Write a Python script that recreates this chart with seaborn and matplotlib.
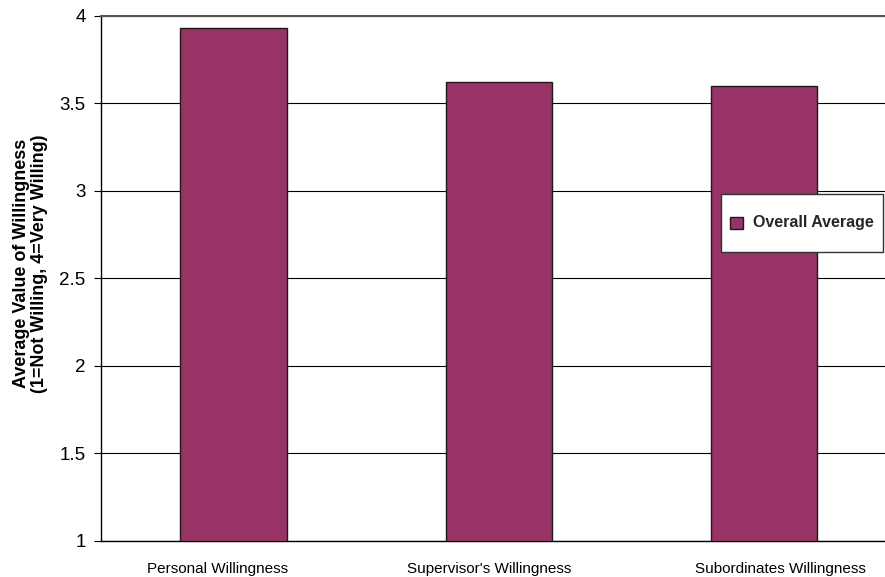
import matplotlib
matplotlib.use("Agg")
import matplotlib.pyplot as plt
import matplotlib.transforms as mtransforms
import matplotlib.patches as mpatches
from matplotlib.container import BarContainer
from matplotlib.legend_handler import HandlerPatch
import seaborn as sns
import pandas as pd
from matplotlib.ticker import FixedLocator

categories = ["Personal Willingness", "Supervisor's Willingness", "Subordinates Willingness"]
overall_average = [3.93, 3.62, 3.60]
series_name = "Overall Average"
y_label = "Average Value of Willingness\n(1=Not Willing, 4=Very Willing)"
y_ticks = [1, 1.5, 2, 2.5, 3, 3.5, 4]
y_tick_labels = ["1", "1.5", "2", "2.5", "3", "3.5", "4"]

df = pd.DataFrame({"category": categories, "value": overall_average})

sns.set_theme(style="white")
plt.rcParams["font.family"] = ["Liberation Sans", "DejaVu Sans"]

fig = plt.figure(figsize=(8.85, 5.77), dpi=100)
ax = fig.add_axes([0.1139, 0.0624, 0.8994, 0.9099])

sns.barplot(data=df, x="category", y="value", color="#993366", saturation=1,
            width=0.4, edgecolor="#1a1a1a", linewidth=1.0, label=series_name, ax=ax,
            zorder=3)

ax.set_xlim(-0.5, 2.5)
ax.set_ylim(1, 4)
ax.set_yticks(y_ticks)
ax.set_yticklabels(y_tick_labels)
ax.grid(axis="y", color="black", linewidth=0.8, zorder=0)
ax.set_axisbelow(True)

# category ticks sit between the groups; labels under each bar
ax.xaxis.set_minor_locator(FixedLocator([-0.5, 0.5, 1.5, 2.5]))
ax.tick_params(axis="x", which="major", length=0, pad=15, labelsize=11, colors="black")
ax.tick_params(axis="x", which="minor", length=5, width=0.8, color="black", direction="out")
ax.tick_params(axis="y", which="major", length=5, width=0.8, color="black", direction="out",
               labelsize=13.5, pad=6, labelcolor="black", left=True)

# small horizontal nudges of the category labels
label_shift_px = [-16, -10, 16]
for lbl, dx in zip(ax.get_xticklabels(), label_shift_px):
    lbl.set_transform(lbl.get_transform() +
                      mtransforms.ScaledTranslation(dx / 100, 0, fig.dpi_scale_trans))

for side in ["left", "bottom"]:
    ax.spines[side].set_color("black")
    ax.spines[side].set_linewidth(1.0)
ax.spines["top"].set_color("#555555")
ax.spines["top"].set_linewidth(1.5)
ax.spines["right"].set_visible(False)

ax.set_xlabel("")
ax.set_ylabel(y_label, fontsize=13, fontweight="bold", color="black", linespacing=1.1)
ax.yaxis.set_label_coords(-0.066, 0.528)


def small_square(legend, orig_handle, xdescent, ydescent, width, height, fontsize):
    side = 0.8 * fontsize
    return mpatches.Rectangle((-xdescent + (width - side) / 2, -ydescent + (height - side) / 2),
                              side, side)


def copy_bar_style(legend_handle, orig_handle):
    legend_handle.update_from(orig_handle[0])


leg = ax.legend(loc="center right", bbox_to_anchor=(0.9823, 0.6057), frameon=True,
                fancybox=False, prop={"weight": "bold", "size": 11.5},
                handlelength=0.85, handleheight=3.6, handletextpad=0.6,
                borderpad=0.55, borderaxespad=0,
                handler_map={BarContainer: HandlerPatch(patch_func=small_square,
                                                        update_func=copy_bar_style)})
leg.get_frame().set_edgecolor("#333333")
leg.get_frame().set_linewidth(1.0)
leg.get_frame().set_alpha(1)
leg.set_zorder(5)

fig.savefig("out.png", dpi=100)
